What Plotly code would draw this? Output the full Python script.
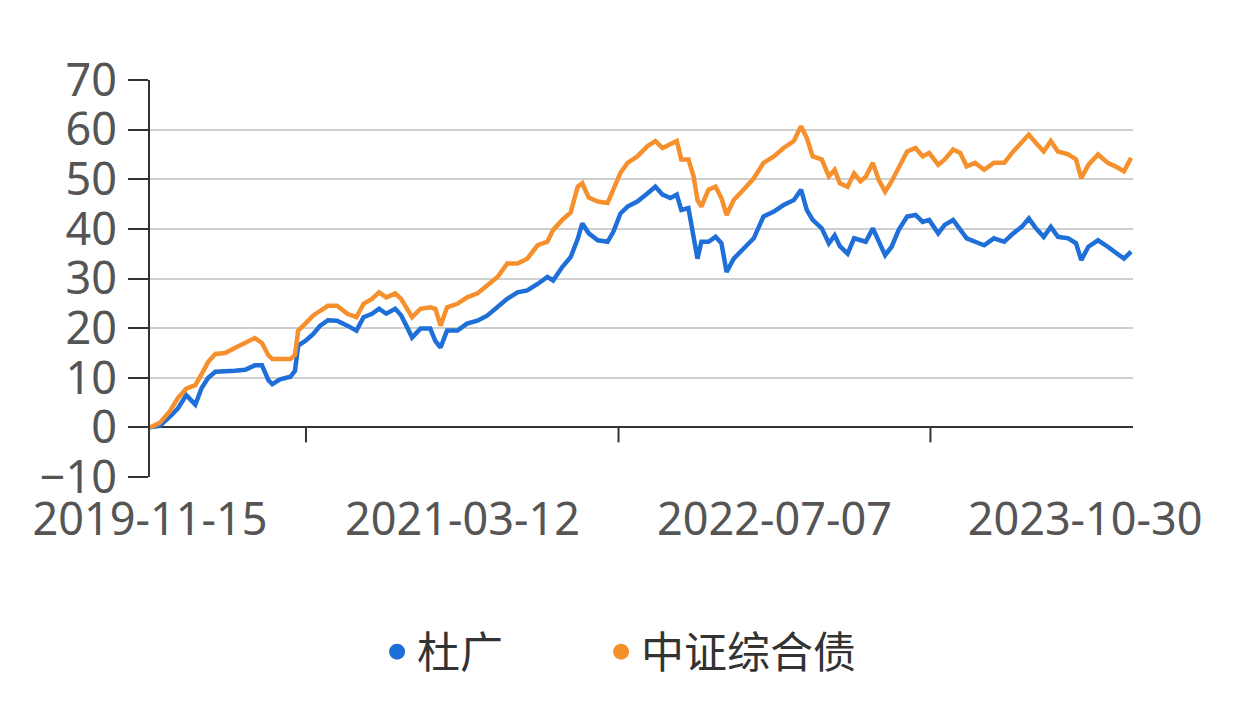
import plotly.graph_objects as go

# ---------------- data ----------------
dates = [
    "2019-11-15", "2019-11-30", "2019-12-16", "2019-12-28", "2020-01-10", "2020-01-24",
    "2020-02-03", "2020-02-13", "2020-02-24", "2020-03-10", "2020-03-25", "2020-04-10",
    "2020-04-25", "2020-05-06", "2020-05-16", "2020-05-22", "2020-06-03", "2020-06-19",
    "2020-06-26", "2020-07-01", "2020-07-12", "2020-07-24", "2020-08-04", "2020-08-16",
    "2020-08-30", "2020-09-15", "2020-09-29", "2020-10-10", "2020-10-23", "2020-11-03",
    "2020-11-14", "2020-11-28", "2020-12-07", "2020-12-17", "2020-12-24", "2021-01-06",
    "2021-01-21", "2021-01-29", "2021-02-06", "2021-02-16", "2021-03-04", "2021-03-19",
    "2021-04-04", "2021-04-19", "2021-05-05", "2021-05-20", "2021-06-05", "2021-06-20",
    "2021-07-06", "2021-07-21", "2021-07-30", "2021-08-13", "2021-08-26", "2021-09-06",
    "2021-09-13", "2021-09-23", "2021-10-07", "2021-10-22", "2021-10-31", "2021-11-11",
    "2021-11-22", "2021-12-07", "2021-12-23", "2022-01-04", "2022-01-15", "2022-01-27",
    "2022-02-06", "2022-02-13", "2022-02-24", "2022-03-04", "2022-03-10", "2022-03-16",
    "2022-03-27", "2022-04-07", "2022-04-16", "2022-04-24", "2022-05-05", "2022-05-20",
    "2022-06-05", "2022-06-20", "2022-07-06", "2022-07-21", "2022-08-06", "2022-08-17",
    "2022-08-26", "2022-09-04", "2022-09-18", "2022-09-29", "2022-10-08", "2022-10-16",
    "2022-10-28", "2022-11-07", "2022-11-17", "2022-11-25", "2022-12-06", "2022-12-15",
    "2022-12-25", "2023-01-04", "2023-01-15", "2023-01-28", "2023-02-10", "2023-02-21",
    "2023-03-03", "2023-03-17", "2023-03-27", "2023-04-09", "2023-04-20", "2023-04-30",
    "2023-05-13", "2023-05-27", "2023-06-11", "2023-06-27", "2023-07-11", "2023-07-24",
    "2023-08-04", "2023-08-15", "2023-08-27", "2023-09-07", "2023-09-18", "2023-10-04",
    "2023-10-16", "2023-10-24", "2023-11-04", "2023-11-19", "2023-12-04", "2023-12-20",
    "2023-12-29", "2024-01-09",
]

du_guang = [
    0, 0.3, 2.2, 3.8, 6.5, 4.6, 8.0, 10.0, 11.2, 11.2, 11.4, 11.6, 12.5, 12.5, 9.5, 8.7,
    9.7, 10.2, 11.4, 16.5, 17.4, 18.8,
    20.5, 21.6, 21.5, 20.5, 19.5, 22.2, 22.9, 23.9, 22.9, 23.9, 22.6, 20.0, 18.1, 19.9,
    19.9, 17.4, 16.1, 19.5, 19.5, 20.9, 21.5, 22.5, 24.2, 25.9, 27.2, 27.6, 28.9, 30.3,
    29.6, 32.3, 34.3, 38.0, 41.1, 39.1, 37.7, 37.4, 39.4, 43.1,
    44.5, 45.5, 47.2, 48.5, 46.9, 46.2, 46.9, 43.8, 44.2, 38.4, 34.0, 37.4, 37.4, 38.4,
    37.1, 31.3, 34.0, 36.0, 38.1, 42.5, 43.5, 44.8, 45.8, 47.9, 43.8, 41.8, 40.1, 37.1,
    38.7, 36.5, 35.0, 38.1, 37.7,
    37.4, 40.1, 37.7, 34.7, 36.4, 39.8, 42.5, 42.8, 41.4, 41.8, 39.1, 40.8, 41.8, 39.8,
    38.1, 37.4, 36.7, 38.1, 37.4, 39.1, 40.4, 42.1, 40.1, 38.4, 40.4, 38.4, 38.1, 37.1,
    33.7, 36.4, 37.7, 36.4, 35.0, 34.0, 35.4,
]

zhongzheng = [
    0, 0.9, 3.3, 5.9, 7.8, 8.5, 10.8, 13.2, 14.8, 15.0, 16.0, 17.0, 18.0, 17.0, 14.5, 13.8,
    13.8, 13.8, 14.6, 19.5, 20.9, 22.5,
    23.5, 24.5, 24.5, 22.9, 22.2, 24.9, 25.9, 27.2, 26.2, 27.0, 25.9, 23.5, 22.2, 23.9,
    24.2, 23.9, 20.5, 24.2, 24.9, 26.2, 27.0, 28.6, 30.3, 33.0, 33.0, 34.0, 36.7, 37.4,
    39.8, 41.8, 43.3, 48.5, 49.2, 46.3, 45.5, 45.2, 47.9, 51.3,
    53.3, 54.6, 56.7, 57.7, 56.3, 57.0, 57.7, 54.0, 54.0, 50.6, 45.8, 44.5, 47.9, 48.5,
    46.2, 42.8, 45.8, 47.9, 50.2, 53.3, 54.6, 56.3, 57.7, 60.7, 58.3, 54.6, 54.0, 50.6,
    51.9, 49.2, 48.5, 51.2, 49.6,
    50.5, 53.3, 49.9, 47.5, 49.6, 52.3, 55.6, 56.3, 54.6, 55.3, 52.9, 54.0, 56.0, 55.3,
    52.6, 53.3, 51.9, 53.3, 53.3, 55.6, 57.3, 59.0, 57.3, 55.6, 57.7, 55.6, 55.0, 54.0,
    50.2, 52.9, 55.0, 53.3, 52.3, 51.6, 54.3,
]

series_names = ["杜广", "中证综合债"]
series_colors = ["#1f6fd8", "#f6902c"]

x_tick_dates = ["2019-11-15", "2021-03-12", "2022-07-07", "2023-10-30"]
x_tick_labels = ["2019-11-15", "2021-03-12", "2022-07-07", "2023-10-30"]
x_tickmark_dates = ["2020-07-13", "2021-11-08", "2023-03-05"]
x_range = ["2019-11-15", "2024-01-12"]
y_ticks = [-10, 0, 10, 20, 30, 40, 50, 60, 70]

# ---------------- figure ----------------
fig = go.Figure()

for name, vals, col in zip(series_names, [du_guang, zhongzheng], series_colors):
    fig.add_trace(go.Scatter(
        x=dates, y=vals, mode="lines", name=name, showlegend=False,
        line=dict(color=col, width=4.5), hoverinfo="x+y",
    ))

# legend entries shown as round dots
legend_widths = [179, 222]
for name, col, lw in zip(series_names, series_colors, legend_widths):
    fig.add_trace(go.Scatter(
        x=[None], y=[None], mode="markers", name=name, legendwidth=lw,
        marker=dict(color=col, size=16, symbol="circle"),
    ))

# x-axis tick marks hanging down from the zero line
shapes = []
for d in x_tickmark_dates:
    shapes.append(dict(
        type="line", xref="x", yref="y", x0=d, x1=d,
        ysizemode="pixel", yanchor=0, y0=0, y1=-15,
        line=dict(color="#333333", width=2),
    ))

# the page body adds an 8px offset, margins compensate for it
fig.update_layout(
    width=1234, height=720,
    margin=dict(l=142, r=109, t=72, b=251),
    paper_bgcolor="white", plot_bgcolor="white",
    font=dict(family="Noto Sans, Noto Sans CJK SC", color="#555555"),
    shapes=shapes,
    showlegend=True,
    legend=dict(
        orientation="h", x=0.231, xanchor="left", y=-0.44, yanchor="middle",
        font=dict(family="Noto Sans CJK SC", size=43, color="#333333"),
        itemwidth=30, bgcolor="rgba(0,0,0,0)",
    ),
    xaxis=dict(
        type="date", range=x_range,
        tickmode="array", tickvals=x_tick_dates, ticktext=x_tick_labels,
        ticks="outside", ticklen=3, tickcolor="rgba(0,0,0,0)",
        showgrid=False, showline=False, zeroline=False,
        tickfont=dict(family="Noto Sans", size=45, color="#555555"),
    ),
    yaxis=dict(
        range=[-10, 70], tickmode="array", tickvals=y_ticks,
        showgrid=True, gridcolor="#cfcfcf", gridwidth=2,
        showline=True, linecolor="#333333", linewidth=2,
        ticks="outside", ticklen=20, tickwidth=2, tickcolor="#333333",
        ticklabelstandoff=2,
        zeroline=True, zerolinecolor="#333333", zerolinewidth=2,
        tickfont=dict(family="Noto Sans", size=45, color="#555555"),
    ),
)

fig.write_html("out.html")
